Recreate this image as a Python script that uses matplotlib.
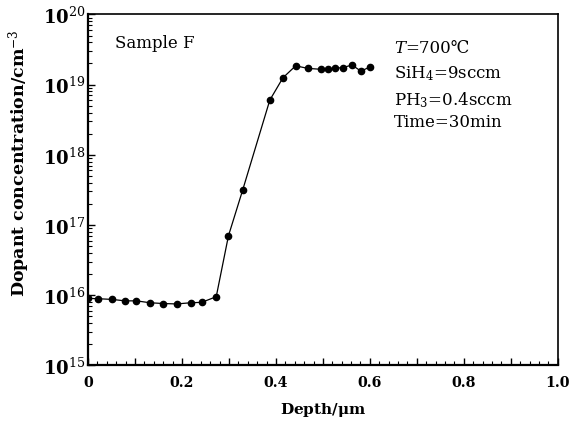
import matplotlib.pyplot as plt
from matplotlib.ticker import FixedLocator, LogLocator, MultipleLocator, NullFormatter

plt.rcParams["font.family"] = ["DejaVu Serif", "Noto Sans CJK SC"]
plt.rcParams["mathtext.fontset"] = "dejavuserif"

# Depth (um) and phosphorus concentration (cm^-3)
depth = [0.0, 0.022, 0.051, 0.079, 0.103, 0.132, 0.160, 0.189, 0.219, 0.242,
         0.273, 0.299, 0.329, 0.387, 0.415, 0.442, 0.468, 0.496, 0.511, 0.525,
         0.543, 0.562, 0.581, 0.601]
conc = [9.0e15, 8.9e15, 8.7e15, 8.3e15, 8.3e15, 7.8e15, 7.6e15, 7.5e15, 7.8e15, 7.9e15,
        9.5e15, 7.0e16, 3.1e17, 6.0e18, 1.25e19, 1.85e19, 1.7e19, 1.65e19, 1.65e19, 1.7e19,
        1.75e19, 1.9e19, 1.55e19, 1.8e19]

x_ticks = [0, 0.1, 0.2, 0.3, 0.4, 0.5, 0.6, 0.7, 0.8, 0.9, 1.0]
x_labels = ["0", "", "0.2", "", "0.4", "", "0.6", "", "0.8", "", "1.0"]
y_ticks = [1e15, 1e16, 1e17, 1e18, 1e19, 1e20]
y_labels = [r"$\mathbf{10}^{15}$", r"$\mathbf{10}^{16}$", r"$\mathbf{10}^{17}$",
            r"$\mathbf{10}^{18}$", r"$\mathbf{10}^{19}$", r"$\mathbf{10}^{20}$"]

fig = plt.figure(figsize=(5.71, 4.27), dpi=100)
ax = fig.add_axes([0.154, 0.142, 0.823, 0.822])

ax.plot(depth, conc, color="black", lw=0.9, marker="o", ms=4.5)

ax.set_yscale("log")
ax.set_xlim(0, 1.0)
ax.set_ylim(1e15, 1e20)

ax.set_xticks(x_ticks)
ax.set_xticklabels(x_labels, fontsize=10.2, fontweight="bold")
ax.xaxis.set_minor_locator(MultipleLocator(0.02))
ax.yaxis.set_major_locator(FixedLocator(y_ticks))
ax.set_yticklabels(y_labels, fontsize=13)
ax.yaxis.set_minor_locator(LogLocator(base=10, subs=range(2, 10), numticks=20))
ax.yaxis.set_minor_formatter(NullFormatter())

ax.tick_params(which="both", direction="in", top=False, right=False)
ax.tick_params(axis="x", which="major", length=5, width=1.0, pad=7)
ax.tick_params(axis="y", which="major", length=5, width=1.0, pad=2)
ax.tick_params(which="minor", length=3, width=0.8)
for side in ["left", "bottom"]:
    ax.spines[side].set_linewidth(1.6)
for side in ["top", "right"]:
    ax.spines[side].set_linewidth(1.2)

ax.set_xlabel(r"Depth/$\mathbf{\mu}$m", fontsize=11, fontweight="bold", labelpad=8)
ax.set_ylabel(r"Dopant concentration/cm$^{-3}$", fontsize=12.5, fontweight="bold")
ax.yaxis.set_label_coords(-0.12, 0.578)

ax.text(0.057, 0.92, "Sample F", transform=ax.transAxes, fontsize=12, va="center")

t = ax.text(0.652, 0.906, "T", transform=ax.transAxes, fontsize=12, style="italic",
            va="center")
ax.annotate("=700℃", xy=(1, 0), xycoords=t, fontsize=12, va="bottom")
ax.text(0.652, 0.835, r"SiH$_4$=9sccm", transform=ax.transAxes, fontsize=12, va="center")
ax.text(0.652, 0.758, r"PH$_3$=0.4sccm", transform=ax.transAxes, fontsize=12, va="center")
ax.text(0.652, 0.695, "Time=30min", transform=ax.transAxes, fontsize=12, va="center")

fig.savefig("out.png", dpi=100)
